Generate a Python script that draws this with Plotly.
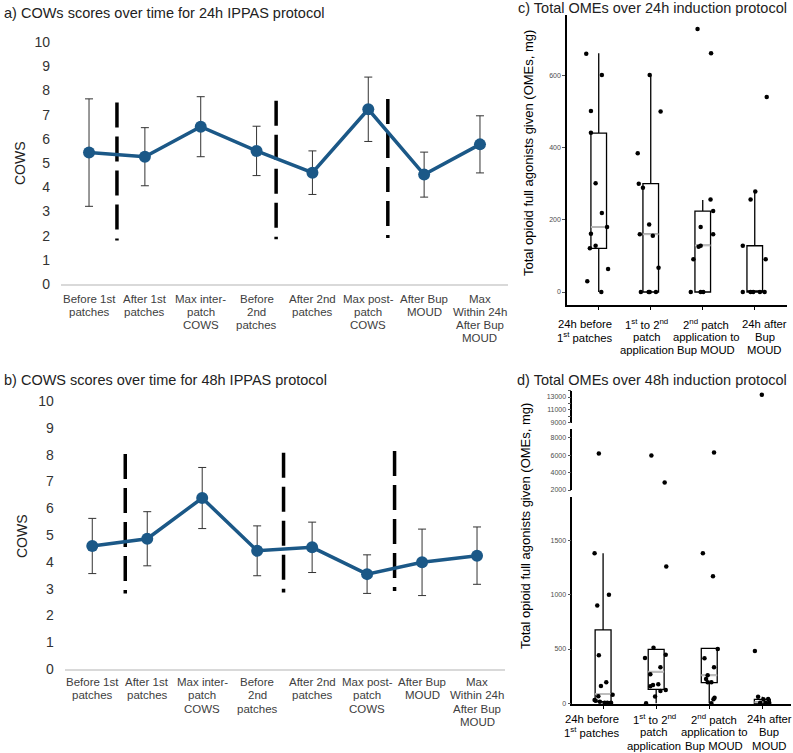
import plotly.graph_objects as go

W, H = 793, 753
FONT = "Liberation Sans, Arial, sans-serif"

# ---------------- data: COWS panels (a, b) ----------------
cows_labels = ["Before 1st<br>patches", "After 1st<br>patches", "Max inter-<br>patch<br>COWS",
               "Before<br>2nd<br>patches", "After 2nd<br>patches", "Max post-<br>patch<br>COWS",
               "After Bup<br>MOUD", "Max<br>Within 24h<br>After Bup<br>MOUD"]
cows_ticks = list(range(0, 11))
cows24_mean = [5.43, 5.26, 6.50, 5.50, 4.60, 7.22, 4.52, 5.77]
cows24_err = [2.22, 1.20, 1.24, 1.02, 0.90, 1.33, 0.93, 1.18]
cows48_mean = [4.59, 4.86, 6.38, 4.41, 4.54, 3.54, 3.98, 4.23]
cows48_err = [1.03, 1.01, 1.14, 0.93, 0.94, 0.72, 1.24, 1.07]

# dashed separators (category-position, top, bottom in COWS units)
sep24_x = [0.5, 3.35, 5.35]
sep24_top = [7.50, 7.57, 7.64]
sep24_bottom = [1.80, 1.85, 1.90]
sep48_x = [0.6, 3.48, 5.5]
sep48_top = [8.02, 8.07, 8.13]
sep48_bottom = [2.82, 2.85, 2.91]

# ---------------- data: OME panels (c, d) ----------------
ome_labels = ["24h before<br>1<sup>st</sup> patches",
              "1<sup>st</sup> to 2<sup>nd</sup><br>patch<br>application",
              "2<sup>nd</sup> patch<br>application to<br>Bup MOUD",
              "24h after<br>Bup<br>MOUD"]

ome24_q1 = [121, 0, 0, 0]
ome24_median = [180, 160, 129, 0]
ome24_q3 = [440, 300, 224, 128]
ome24_low = [0, 0, 0, 0]
ome24_high = [661, 601, 255, 279]
ome24_points = [
    [660, 601, 501, 441, 301, 219, 180, 161, 128, 121, 64, 30, 0],
    [601, 500, 384, 300, 289, 187, 160, 156, 67, 0, 0, 0, 0],
    [728, 661, 256, 224, 180, 160, 128, 125, 91, 0, 0, 0],
    [540, 278, 256, 128, 91, 0, 0, 0, 0, 0],
]
ome24_jitter = [
    [-0.24, 0.06, -0.15, -0.15, -0.06, 0.06, 0.16, -0.15, -0.06, -0.17, 0.18, -0.22, 0.05],
    [-0.02, 0.19, -0.25, -0.23, -0.15, -0.03, -0.21, 0.04, 0.15, -0.19, -0.04, -0.02, 0.10],
    [-0.10, 0.16, 0.15, 0.20, -0.04, 0.20, -0.04, -0.08, -0.18, -0.23, -0.04, 0.01],
    [0.23, 0.01, -0.08, -0.23, 0.21, -0.23, -0.08, -0.03, 0.10, 0.19],
]

ome48_q1 = [15, 129, 190, 0]
ome48_median = [86, 291, 258, 10]
ome48_q3 = [675, 497, 506, 37]
ome48_low = [0, 0, 0, 0]
ome48_high = [1380, 497, 506, 60]
ome48_points = [
    [6200, 1380, 1000, 900, 442, 193, 160, 80, 65, 30, 24, 15, 6, 6, 6],
    [5960, 2850, 1260, 512, 448, 417, 331, 267, 175, 168, 157, 122, 113, 64, 0],
    [6300, 1380, 1170, 500, 414, 331, 258, 224, 193, 193, 52, 37, 0],
    [13350, 481, 61, 37, 40, 6, 6, 6, 0],
]
ome48_jitter = [
    [-0.08, -0.16, 0.11, -0.11, -0.08, 0.06, -0.04, 0.18, -0.09, -0.16, -0.14, -0.06, 0.03, 0.08, 0.15],
    [-0.09, 0.16, 0.19, -0.05, 0.18, -0.21, 0.08, -0.11, 0.04, -0.06, -0.11, 0.18, 0.08, -0.02, -0.19],
    [0.09, -0.12, 0.07, 0.16, -0.09, 0.09, -0.03, -0.06, -0.03, 0.04, 0.10, 0.08, 0.04],
    [-0.01, -0.14, -0.08, 0.02, 0.11, -0.04, 0.06, 0.13, 0.07],
]

ome24_ticks = [0, 200, 400, 600]
ome48_ticks_low = [0, 500, 1000, 1500]
ome48_ticks_mid = [2000, 4000, 6000, 8000]
ome48_ticks_top = [9000, 11000, 13000]
ome48_minor_top = [10000, 12000, 14000]

# ---------------- style / placement constants ----------------
LINE_BLUE = "#1b5887"
BOX_W = 0.3
# horizontal shift of the category label blocks of panels c and d (category units)
C_LABEL_SHIFT = [-0.27, -0.08, 0.07, 0.19]
D_LABEL_SHIFT = [-0.21, -0.04, 0.09, 0.13]


def fx(px):
    return px / W


def fy(py):
    return 1 - py / H


fig = go.Figure()


def cows_panel(xa, ya, mean, err, sx, stop, sbot):
    xs, ys = [], []
    for x, t, b in zip(sx, stop, sbot):
        xs += [x, x, None]
        ys += [t, b, None]
    fig.add_trace(go.Scatter(x=xs, y=ys, mode="lines", xaxis=xa, yaxis=ya,
                             line=dict(color="black", width=3.5, dash="25px,9px"),
                             hoverinfo="skip", showlegend=False))
    fig.add_trace(go.Scatter(x=list(range(len(mean))), y=mean, mode="lines+markers",
                             xaxis=xa, yaxis=ya,
                             line=dict(color=LINE_BLUE, width=3.5),
                             marker=dict(color=LINE_BLUE, size=12),
                             error_y=dict(type="data", array=err, color="#333333",
                                          thickness=1, width=4),
                             showlegend=False))


cows_panel("x", "y", cows24_mean, cows24_err, sep24_x, sep24_top, sep24_bottom)
cows_panel("x2", "y2", cows48_mean, cows48_err, sep48_x, sep48_top, sep48_bottom)


def ome_panel(xa, yas, q1, med, q3, lo, hi, pts, jit):
    ybox = yas[0]
    fig.add_trace(go.Box(x=list(range(len(q1))), q1=q1, median=med, q3=q3,
                         lowerfence=lo, upperfence=hi, xaxis=xa, yaxis=ybox,
                         width=BOX_W, whiskerwidth=0, boxpoints=False,
                         line=dict(color="black", width=1.3),
                         fillcolor="rgba(255,255,255,0)", showlegend=False,
                         hoverinfo="skip"))
    mx, my = [], []
    for i, (a, m, b) in enumerate(zip(q1, med, q3)):
        if m != a and m != b:
            mx += [i - BOX_W / 2, i + BOX_W / 2, None]
            my += [m, m, None]
    fig.add_trace(go.Scatter(x=mx, y=my, mode="lines", xaxis=xa, yaxis=ybox,
                             line=dict(color="#bdbdbd", width=1.9),
                             hoverinfo="skip", showlegend=False))
    px_, py_ = [], []
    for i, (vals, js) in enumerate(zip(pts, jit)):
        for v, j in zip(vals, js):
            px_.append(i + j)
            py_.append(v)
    for ya in yas:
        fig.add_trace(go.Scatter(x=px_, y=py_, mode="markers", xaxis=xa, yaxis=ya,
                                 marker=dict(color="black", size=4.5),
                                 cliponaxis=True, showlegend=False))


ome_panel("x3", ["y3"], ome24_q1, ome24_median, ome24_q3, ome24_low, ome24_high,
          ome24_points, ome24_jitter)
ome_panel("x4", ["y4", "y5", "y6"], ome48_q1, ome48_median, ome48_q3, ome48_low,
          ome48_high, ome48_points, ome48_jitter)

# ---------------- layout ----------------
cows_x_common = dict(range=[-0.5, 7.5], tickvals=list(range(8)), showticklabels=False,
                     showline=True, linecolor="#d9d9d9", linewidth=1.5, showgrid=False,
                     zeroline=False, ticks="", automargin=False, fixedrange=True)
cows_y_common = dict(range=[0, 10.2], tickvals=cows_ticks, showgrid=False, zeroline=False,
                     showline=False, ticks="", tickfont=dict(size=14, color="#333333"),
                     ticklabelstandoff=10, automargin=False, fixedrange=True)

ome_x_common = dict(tickvals=[0, 1, 2, 3], showticklabels=False, showline=True,
                    linecolor="black", linewidth=1.5, showgrid=False, zeroline=False,
                    ticks="outside", ticklen=3, tickcolor="black",
                    automargin=False, fixedrange=True)
ome_y_common = dict(showline=True, linecolor="black", linewidth=1.5, showgrid=False,
                    zeroline=False, ticks="outside", ticklen=3, tickcolor="#555555",
                    tickfont=dict(size=7, color="#4d4d4d"), tickformat="d",
                    automargin=False, fixedrange=True)

fig.update_layout(
    width=W, height=H, margin=dict(l=0, r=0, t=0, b=0, autoexpand=False),
    paper_bgcolor="white", plot_bgcolor="white", showlegend=False,
    font=dict(family=FONT, color="#222222"),
    xaxis=dict(domain=[fx(61.1), fx(507.9)], anchor="y", **cows_x_common),
    yaxis=dict(domain=[fy(284), fy(284 - 10.2 * 24.2)], anchor="x", **cows_y_common),
    xaxis2=dict(domain=[fx(64.8), fx(504.5)], anchor="y2", **cows_x_common),
    yaxis2=dict(domain=[fy(669), fy(669 - 10.2 * 26.8)], anchor="x2", **cows_y_common),
    xaxis3=dict(domain=[fx(567), fx(787)], range=[-0.61, 3.62], anchor="y3", **ome_x_common),
    yaxis3=dict(domain=[fy(305), fy(15)], range=[-36, 767], tickvals=ome24_ticks,
                anchor="x3", **ome_y_common),
    xaxis4=dict(domain=[fx(572.3), fx(791)], range=[-0.58, 3.54], anchor="y4", **ome_x_common),
    yaxis4=dict(domain=[fy(704), fy(496.7)], range=[-6, 1901], tickvals=ome48_ticks_low,
                anchor="x4", **ome_y_common),
    yaxis5=dict(domain=[fy(490), fy(429.3)], range=[2000, 8966], tickvals=ome48_ticks_mid,
                anchor="x4", **ome_y_common),
    yaxis6=dict(domain=[fy(423.3), fy(390.6)], range=[8910, 14000], tickvals=ome48_ticks_top,
                minor=dict(tickvals=ome48_minor_top, ticks="outside", ticklen=3,
                           tickcolor="#555555"),
                anchor="x4", **ome_y_common),
)


def category_labels(xref, labels, shifts, first_y, step, size, color):
    for i, (lab, sh) in enumerate(zip(labels, shifts)):
        for k, line in enumerate(lab.split("<br>")):
            fig.add_annotation(text=line, x=i + sh, y=fy(first_y + k * step),
                               xref=xref, yref="paper", xanchor="center",
                               yanchor="middle", showarrow=False,
                               font=dict(size=size, color=color))


category_labels("x", cows_labels, [0] * 8, 299, 13, 11.5, "#404040")
category_labels("x2", cows_labels, [0] * 8, 682, 13.3, 11.5, "#404040")
category_labels("x3", ome_labels, C_LABEL_SHIFT, 324.3, 13, 11.3, "black")
category_labels("x4", ome_labels, D_LABEL_SHIFT, 719, 13.4, 11.3, "black")

titles = [
    ("a) COWs scores over time for 24h IPPAS protocol", 2, 13),
    ("b) COWS scores over time for 48h IPPAS protocol", 2, 380),
    ("c) Total OMEs over 24h induction protocol", 516, 8),
    ("d) Total OMEs over 48h induction protocol", 515, 380),
]
for text, x, y in titles:
    fig.add_annotation(text=text, x=fx(x), y=fy(y), xref="paper", yref="paper",
                       xanchor="left", yanchor="middle", showarrow=False,
                       font=dict(size=14.5, color="#222222"))

axis_titles = [
    ("COWS", 20, 163, 14, "#222222"),
    ("COWS", 22, 536, 14, "#222222"),
    ("Total opioid full agonists given (OMEs, mg)", 528, 153, 13, "black"),
    ("Total opioid full agonists given (OMEs, mg)", 525, 526, 13, "black"),
]
for text, x, y, s, c in axis_titles:
    fig.add_annotation(text=text, x=fx(x), y=fy(y), xref="paper", yref="paper",
                       xanchor="center", yanchor="middle", textangle=-90,
                       showarrow=False, font=dict(size=s, color=c))

fig.write_html("out.html")
